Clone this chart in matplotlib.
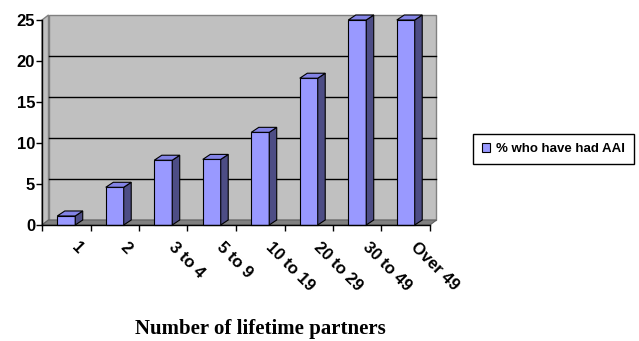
import matplotlib
matplotlib.use("Agg")
import matplotlib.pyplot as plt
from matplotlib.patches import Polygon, Rectangle, Patch
from matplotlib.transforms import ScaledTranslation, IdentityTransform

categories = ["1", "2", "3 to 4", "5 to 9", "10 to 19", "20 to 29", "30 to 49", "Over 49"]
values = [1.1, 4.6, 7.9, 8.0, 11.3, 17.9, 25.0, 25.0]
yticks = [0, 5, 10, 15, 20, 25]
series_name = "% who have had AAI"
xlabel = "Number of lifetime partners"

W, H, DPI = 639, 341, 100
fig = plt.figure(figsize=(W / DPI, H / DPI), dpi=DPI)
L, R, T, B = 42, 430, 20, 225
ax = fig.add_axes([L / W, 1 - B / H, (R - L) / W, (B - T) / H])
n = len(categories)
ax.set_xlim(0, n)
ax.set_ylim(0, 25)
for s in ["top", "right"]:
    ax.spines[s].set_visible(False)
ax.set_facecolor("none")
ax.spines["left"].set_linewidth(1.0)
ax.spines["bottom"].set_linewidth(1.0)
ax.spines["left"].set_zorder(10)
ax.spines["bottom"].set_zorder(10)

# depth offsets (pixels)
wdx, wdy = 6.5, 5
bdx, bdy = 7.5, 5
wall_tr = ax.transData + ScaledTranslation(wdx / DPI, wdy / DPI, fig.dpi_scale_trans)
ident = IdentityTransform()

fig.canvas.draw()

wall_gray = "#C0C0C0"
edge_gray = "#808080"

# back wall
ax.add_patch(Rectangle((0, 0), n, 25, transform=wall_tr, facecolor=wall_gray,
                       edgecolor=edge_gray, lw=1.0, zorder=1, clip_on=False))
# left wall
a0 = ax.transData.transform((0, 0)); a1 = ax.transData.transform((0, 25))
lw_pts = [tuple(a0), tuple(a1), (a1[0] + wdx, a1[1] + wdy), (a0[0] + wdx, a0[1] + wdy)]
ax.add_patch(Polygon(lw_pts, closed=True, transform=ident, facecolor=wall_gray,
                     edgecolor=edge_gray, lw=1.0, zorder=1, clip_on=False))
# floor
p0 = ax.transData.transform((0, 0)); p1 = ax.transData.transform((n, 0))
floor = [tuple(p0), tuple(p1), (p1[0] + wdx, p1[1] + wdy), (p0[0] + wdx, p0[1] + wdy)]
ax.add_patch(Polygon(floor, closed=True, transform=ident, facecolor="#808080",
                     edgecolor="#606060", lw=0.8, zorder=2, clip_on=False))
# gridlines on back wall
for yv in yticks[1:-1]:
    ax.plot([0, n], [yv, yv], color="black", lw=1.0, transform=wall_tr, zorder=2,
            clip_on=False)

# bars
bw = 0.37
front_c = "#9999FF"
side_c = "#4D4D85"
top_c = "#8484E6"
for i, v in enumerate(values):
    x0 = i + 0.5 - bw / 2
    ax.add_patch(Rectangle((x0, 0), bw, v, facecolor=front_c, edgecolor="black",
                           lw=0.8, zorder=5, clip_on=False))
    a = ax.transData.transform((x0 + bw, 0))
    b = ax.transData.transform((x0 + bw, v))
    c = ax.transData.transform((x0, v))
    side = [tuple(a), tuple(b), (b[0] + bdx, b[1] + bdy), (a[0] + bdx, a[1] + bdy)]
    top = [tuple(c), tuple(b), (b[0] + bdx, b[1] + bdy), (c[0] + bdx, c[1] + bdy)]
    ax.add_patch(Polygon(side, closed=True, transform=ident, facecolor=side_c,
                         edgecolor="black", lw=0.8, zorder=5, clip_on=False))
    ax.add_patch(Polygon(top, closed=True, transform=ident, facecolor=top_c,
                         edgecolor="black", lw=0.8, zorder=5, clip_on=False))

ax.set_yticks(yticks)
ax.set_yticklabels([str(t) for t in yticks], fontfamily="Liberation Sans",
                   fontweight="bold", fontsize=12)
ax.tick_params(axis="y", direction="out", length=4, width=1, pad=1)
ax.set_xticks(range(0, n + 1))
ax.set_xticklabels([""] * (n + 1))
ax.tick_params(axis="x", direction="out", length=4, width=1)

for i, lab in enumerate(categories):
    px, py = ax.transData.transform((i + 0.5, 0))
    fig.text((px + 13) / W, (py - 15) / H, lab, rotation=-45, ha="left", va="top",
             rotation_mode="anchor", fontfamily="Liberation Sans", fontweight="bold",
             fontsize=12)

fig.text(260 / W, 1 - 329 / H, xlabel, ha="center", va="center",
         fontfamily="Liberation Serif", fontweight="bold", fontsize=15)

leg = fig.legend(handles=[Patch(facecolor=front_c, edgecolor="black", lw=0.8, label=series_name)],
                 loc="center", bbox_to_anchor=((471 + 636) / 2 / W, 1 - 149 / H),
                 frameon=True, fancybox=False, framealpha=1, edgecolor="black",
                 prop={"family": "Liberation Sans", "weight": "bold", "size": 9.5},
                 handlelength=0.6, handleheight=0.6, handletextpad=0.5,
                 borderpad=0.7, borderaxespad=0)
leg.get_frame().set_linewidth(1.0)

fig.savefig("out.png", dpi=DPI)
